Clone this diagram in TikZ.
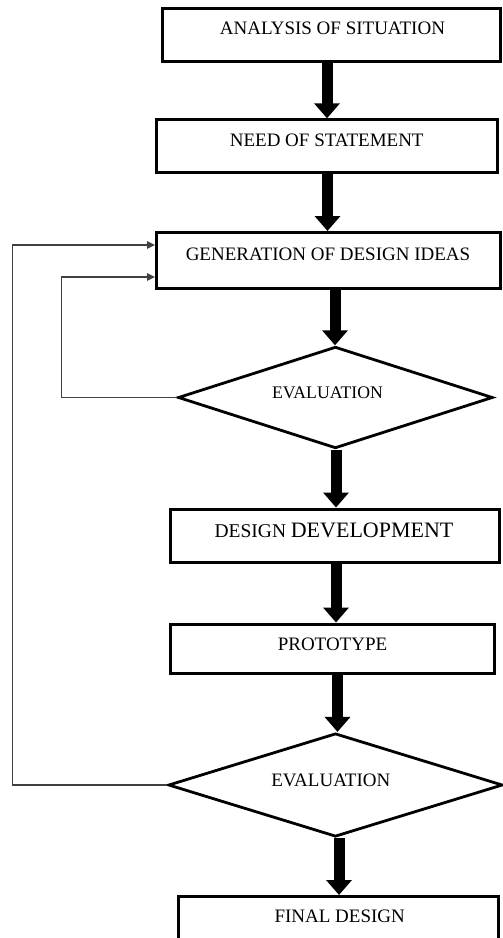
\documentclass[tikz,border=0pt]{standalone}
\usepackage{fontspec}
\setmainfont{Liberation Serif}
\usetikzlibrary{shapes.geometric,arrows.meta}
\begin{document}
\begin{tikzpicture}[x=1pt,y=-1pt,
  box/.style={draw, line width=3pt, inner sep=0pt, rectangle},
  dia/.style={draw, line width=2.8pt, inner sep=0pt, diamond},
  txt/.style={anchor=base, inner sep=0pt, font=\fontsize{19}{22}\selectfont},
  bigarr/.style={line width=11pt, -{Triangle[length=15pt,width=25pt]}},
  fb/.style={draw=black!75, line width=1.4pt, -{Triangle[length=8pt,width=7.5pt]}}]
\clip (0,0) rectangle (503,938);
\fill[white] (0,0) rectangle (503,938);
% boxes
\node[box, minimum width=337.5pt, minimum height=53.5pt] (b1) at (331.25,34.75) {};
\node[box, minimum width=341pt, minimum height=52.7pt] (b2) at (327,146.15) {};
\node[box, minimum width=343.5pt, minimum height=56pt] (b3) at (328.25,260.5) {};
\node[dia, minimum width=314.7pt, minimum height=101.6pt] (d1) at (335.4,397.5) {};
\node[box, minimum width=329.5pt, minimum height=53pt] (b4) at (334.75,535.5) {};
\node[box, minimum width=324pt, minimum height=49.5pt] (b5) at (332,648.75) {};
\node[dia, minimum width=334.4pt, minimum height=103.4pt] (d2) at (335.5,785) {};
\node[box, minimum width=320pt, minimum height=53.5pt] (b6) at (338,923.25) {};
% texts
\node[txt] (t1) at (332.5,34) {ANALYSIS OF SITUATION};
\node[txt] (t2) at (326.7,146.5) {NEED OF STATEMENT};
\node[txt] (t3) at (328,260) {GENERATION OF DESIGN IDEAS};
\node[txt, font=\fontsize{17.7}{20}\selectfont] (t4) at (327.5,398) {EVALUATION};
\node[txt] (t5) at (334,537.7) {{\fontsize{19.5}{22}\selectfont DESIGN} {\fontsize{22}{24}\selectfont DEVELOPMENT}};
\node[txt] (t6) at (332.5,650.5) {PROTOTYPE};
\node[txt] (t7) at (330.8,786) {EVALUATION};
\node[txt] (t8) at (339.7,922) {FINAL DESIGN};
% arrow x positions
\coordinate (ax1) at (327,0);
\coordinate (ax2) at (327.5,0);
\coordinate (ax3) at (335,0);
\coordinate (ax4) at (336,0);
\coordinate (ax5) at (336,0);
\coordinate (ax6) at (337.5,0);
\coordinate (ax7) at (339,0);
\draw[bigarr] (b1.south -| ax1) -- (b2.north -| ax1);
\draw[bigarr] (b2.south -| ax2) -- (b3.north -| ax2);
\draw[bigarr] (b3.south -| ax3) -- (d1.north -| ax3);
\draw[bigarr] (d1.south -| ax4) -- (b4.north -| ax4);
\draw[bigarr] (b4.south -| ax5) -- (b5.north -| ax5);
\draw[bigarr] (b5.south -| ax6) -- (d2.north -| ax6);
\draw[bigarr] (d2.south -| ax7) -- (b6.north -| ax7);
% feedback loops
\coordinate (fo) at (12.7,0);
\coordinate (fi) at (61.7,0);
\draw[fb] (d2.west) -- (d2.west -| fo) |- ([yshift=15.5pt]b3.west);
\draw[fb] (d1.west) -- (d1.west -| fi) |- ([yshift=-16.5pt]b3.west);
\end{tikzpicture}
\end{document}
